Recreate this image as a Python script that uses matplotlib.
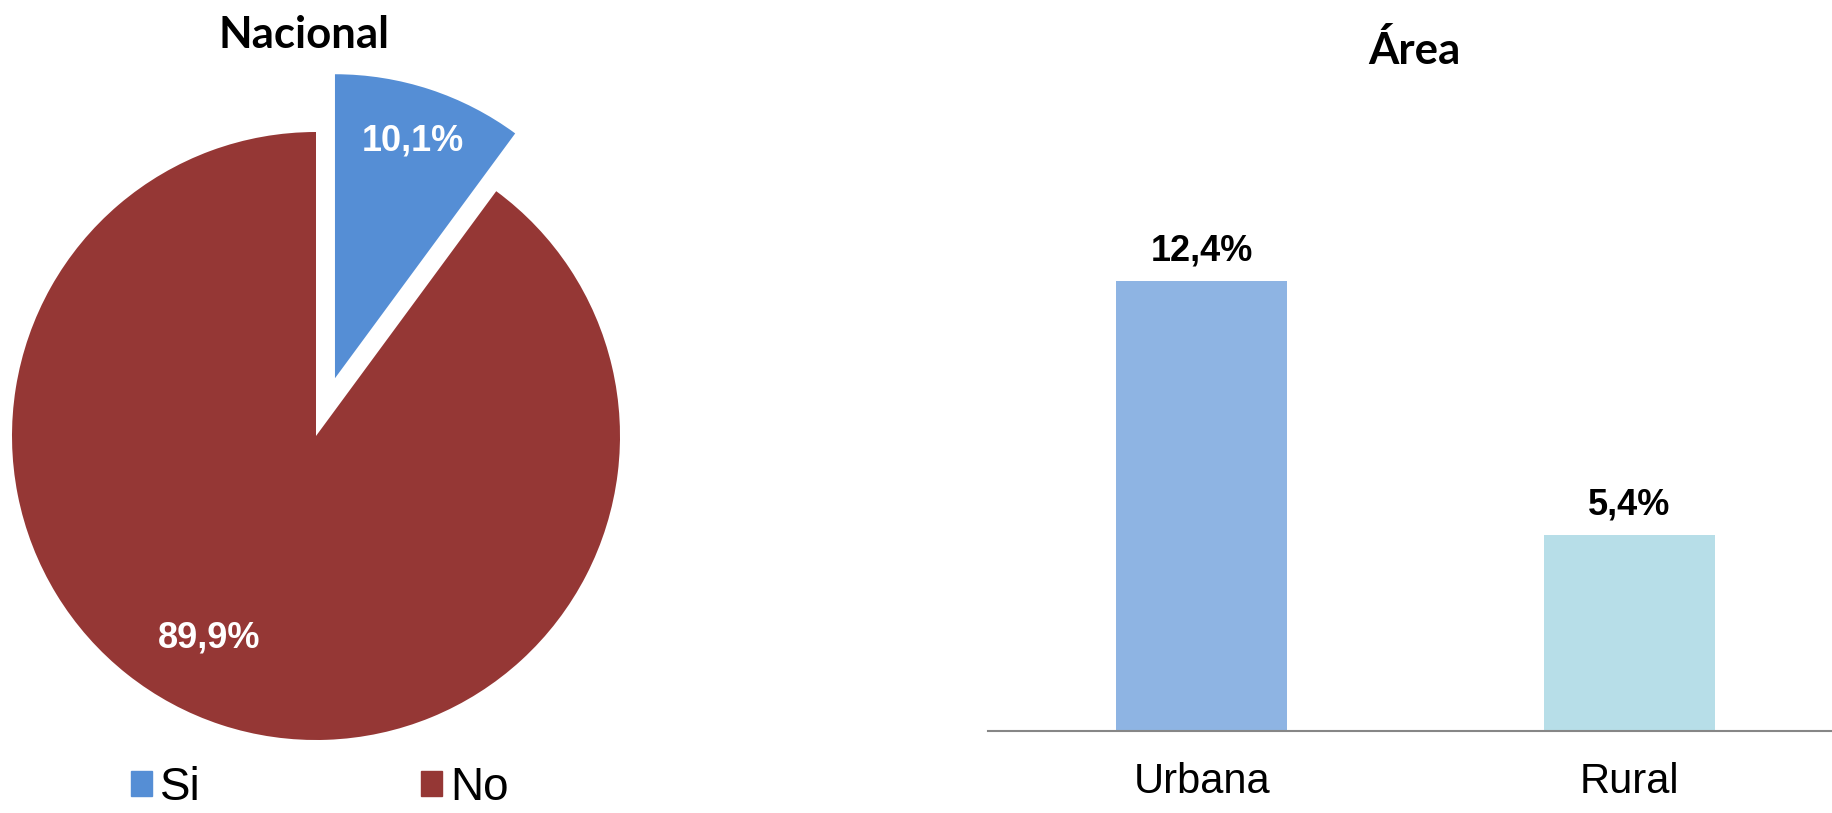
import numpy as np
import matplotlib
matplotlib.use("Agg")
import matplotlib.pyplot as plt
from matplotlib.patches import Patch

# data
pie_labels = ["Si", "No"]
pie_values = [10.1, 89.9]
pie_colors = ["#558ED5", "#953735"]

areas = ["Urbana", "Rural"]
area_values = [12.4, 5.4]
area_colors = ["#8EB4E3", "#B7DEE8"]

W, H = 1833, 813
fig = plt.figure(figsize=(W / 100, H / 100), dpi=100)
plt.rcParams["font.family"] = ["Liberation Sans", "DejaVu Sans"]

# Pie (Nacional)
cx, cy, r = 316, 436, 304
ax1 = fig.add_axes([0, 0, 2 * cx / W, 1])
wedges, texts, autotexts = ax1.pie(pie_values, colors=pie_colors, startangle=90,
                                   counterclock=False, explode=[0.2, 0],
                                   autopct=lambda p: f"{p:.1f}%".replace(".", ","),
                                   pctdistance=0.8,
                                   textprops=dict(color="white", fontsize=26, fontweight="bold"))
ax1.set_aspect("auto")
ax1.set_xlim(-cx / r, cx / r)
ax1.set_ylim(-(H - cy) / r, cy / r)

# put the labels where the original has them
mids = [90 - pie_values[0] * 3.6 / 2, 90 - pie_values[0] * 3.6 - pie_values[1] * 3.6 * 0.53]
dists = [1.02, 0.75]
for t, a, d in zip(autotexts, mids, dists):
    t.set_position((d * np.cos(np.radians(a)), d * np.sin(np.radians(a))))

fig.text(304 / W, 1 - 35 / H, "Nacional", ha="center", va="center",
         fontsize=31.5, fontweight="bold", family=["Lato", "DejaVu Sans"])

handles = [Patch(color=c) for c in pie_colors]
fig.legend(handles, pie_labels, loc="center left", bbox_to_anchor=(131 / W, 1 - 788 / H),
           ncol=2, frameon=False, fontsize=33, handlelength=0.46, handleheight=0.46,
           handletextpad=0.18, columnspacing=4.8, borderpad=0, borderaxespad=0)

# Bars (Área)
y0, ppu = 731, 36.3
top = 100
ax2 = fig.add_axes([988 / W, 1 - y0 / H, 1 - 988 / W, (y0 - top) / H])
bars = ax2.bar(range(len(areas)), area_values, width=0.4, color=area_colors)
ax2.bar_label(bars, labels=[f"{v:.1f}%".replace(".", ",") for v in area_values],
              padding=9, fontsize=26, fontweight="bold")
ax2.set_xlim(-0.5, 1.477)
ax2.set_ylim(0, (y0 - top) / ppu)
ax2.set_xticks(range(len(areas)))
ax2.set_xticklabels(areas, fontsize=30)
ax2.tick_params(axis="x", length=0, pad=22)
ax2.set_yticks([])
for s in ["top", "right", "left"]:
    ax2.spines[s].set_visible(False)
ax2.spines["bottom"].set_color("#868686")
ax2.spines["bottom"].set_linewidth(1.5)

fig.text(1414 / W, 1 - 51 / H, "Área", ha="center", va="center",
         fontsize=31.5, fontweight="bold", family=["Lato", "DejaVu Sans"])

fig.savefig("out.png", dpi=100)
